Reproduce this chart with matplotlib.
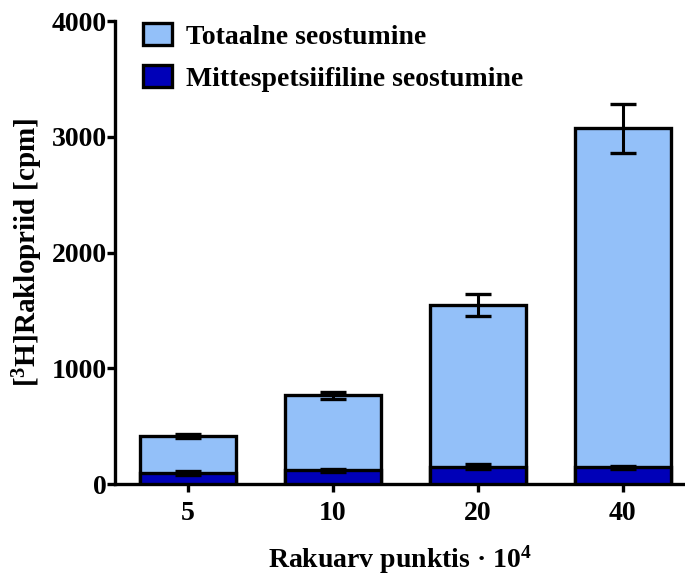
import matplotlib.pyplot as plt
import numpy as np

plt.rcParams["font.family"] = ["Liberation Serif", "DejaVu Serif"]
plt.rcParams["font.weight"] = "bold"
plt.rcParams["mathtext.fontset"] = "custom"
plt.rcParams["mathtext.bf"] = "Liberation Serif:bold"
plt.rcParams["mathtext.rm"] = "Liberation Serif:bold"
plt.rcParams["mathtext.default"] = "bf"

cells = ["5", "10", "20", "40"]
total = [415, 770, 1545, 3075]
total_err = [15, 30, 95, 210]
nonspec = [95, 120, 150, 145]
nonspec_err = [15, 15, 20, 12]

light = "#93c0f9"
dark = "#0000b8"

fig = plt.figure(figsize=(6.85, 5.75), dpi=100)
ax = fig.add_axes([0.168, 0.158, 0.832, 0.805])

x = np.arange(len(cells))
w = 0.66
ax.bar(x, total, w, color=light, edgecolor="black", linewidth=2.4,
       label="Totaalne seostumine", zorder=2)
ax.bar(x, nonspec, w, color=dark, edgecolor="black", linewidth=2.4,
       label="Mittespetsiifiline seostumine", zorder=3)
ax.errorbar(x, total, yerr=total_err, fmt="none", ecolor="black",
            elinewidth=2.2, capsize=9.5, capthick=2.4, zorder=4)
ax.errorbar(x, nonspec, yerr=nonspec_err, fmt="none", ecolor="black",
            elinewidth=2.2, capsize=9.5, capthick=2.4, zorder=4)

ax.set_xlim(-0.503, 3.43)
ax.set_ylim(0, 4000)
ax.set_yticks([0, 1000, 2000, 3000, 4000])
ax.set_xticks(x)
ax.set_xticklabels(cells)

for s in ["top", "right"]:
    ax.spines[s].set_visible(False)
for s in ["left", "bottom"]:
    ax.spines[s].set_linewidth(2.4)
ax.tick_params(axis="both", width=2.4, length=6, labelsize=20)
ax.tick_params(axis="x", pad=6)
ax.tick_params(axis="y", pad=0)

ax.set_ylabel(r"[$^{3}$H]Raklopriid [cpm]", fontsize=21, fontweight="bold")
ax.yaxis.set_label_coords(-0.123, 0.5)
ax.set_xlabel(r"Rakuarv punktis · 10$^{4}$", fontsize=20, fontweight="bold", labelpad=13)

ax.legend(loc="upper left", bbox_to_anchor=(0.03, 1.02), frameon=False,
          fontsize=20, handlelength=1.05, handleheight=0.85, handletextpad=0.5,
          labelspacing=0.55, borderaxespad=0)

fig.savefig("out.png", dpi=100)
